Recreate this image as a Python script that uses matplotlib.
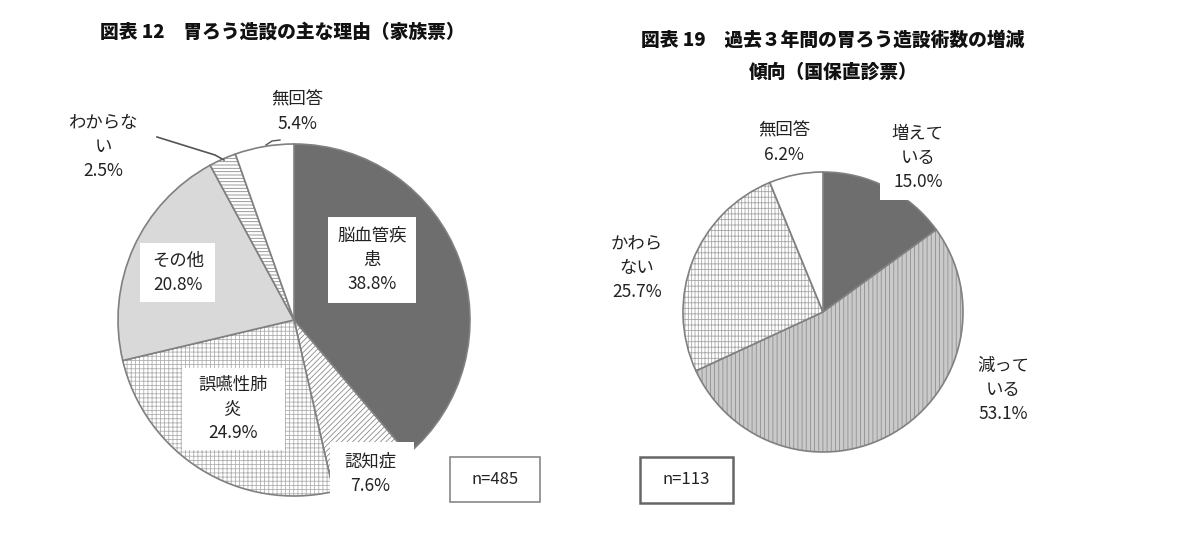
import matplotlib
matplotlib.use("Agg")
import matplotlib.pyplot as plt
from matplotlib.patches import Rectangle
from matplotlib.colors import to_rgba

plt.rcParams['font.family'] = ['Noto Sans CJK JP', 'DejaVu Sans']
plt.rcParams['hatch.linewidth'] = 0.6

# ---- data ----
left_title = "図表 12　胃ろう造設の主な理由（家族票）"
left_labels = ["脳血管疾患", "認知症", "誤嚥性肺炎", "その他", "わからない", "無回答"]
left_values = [38.8, 7.6, 24.9, 20.8, 2.5, 5.4]
left_n = "n=485"

right_title = "図表 19　過去３年間の胃ろう造設術数の増減\n傾向（国保直診票）"
right_labels = ["増えている", "減っている", "かわらない", "無回答"]
right_values = [15.0, 53.1, 25.7, 6.2]
right_n = "n=113"

W, H = 1200, 545
fig = plt.figure(figsize=(12, 5.45), dpi=100)
ax = fig.add_axes([0, 0, 1, 1])

def Y(v):
    return H - v

edge = '#808080'

def style(wedges, styles):
    for w, s in zip(wedges, styles):
        w.set_facecolor(s[0])
        if s[1]:
            w.set_hatch(s[1])
            w._hatch_color = to_rgba(s[2])

lstyles = [
    ('#6e6e6e', None, None),
    ('white', '//////', '#8a8a8a'),
    ('white', '++++', '#b0b0b0'),
    ('#d9d9d9', None, None),
    ('white', '-----', '#8a8a8a'),
    ('white', None, None),
]
wl, _ = ax.pie(left_values, center=(294, Y(320)), radius=176, startangle=90,
               counterclock=False, frame=True,
               wedgeprops=dict(edgecolor=edge, linewidth=1.2))
style(wl, lstyles)

rstyles = [
    ('#6e6e6e', None, None),
    ('#cacaca', '||||', '#909090'),
    ('white', '+++||', '#a8a8a8'),
    ('white', None, None),
]
wr, _ = ax.pie(right_values, center=(823, Y(312)), radius=140, startangle=90,
               counterclock=False, frame=True,
               wedgeprops=dict(edgecolor=edge, linewidth=1.2))
style(wr, rstyles)

ax.set_xlim(0, W)
ax.set_ylim(0, H)
ax.set_aspect('auto')
ax.axis('off')

fs = 12.5
def lab(x, y, s, ls=1.45):
    ax.text(x, Y(y), s, ha='center', va='center', fontsize=fs, color='#222222',
            linespacing=ls, zorder=5)

for (x0, y0, x1, y1) in [(328, 217, 416, 303), (140, 243, 215, 302),
                         (182, 368, 285, 450), (330, 442, 414, 505),
                         (880, 113, 955, 200)]:
    ax.add_patch(Rectangle((x0, Y(y1)), x1 - x0, y1 - y0, facecolor='white',
                           edgecolor='none', zorder=4))

lab(372, 260, "脳血管疾\n患\n38.8%")
lab(178, 273, "その他\n20.8%")
lab(233, 409, "誤嚥性肺\n炎\n24.9%")
lab(370, 474, "認知症\n7.6%")
lab(103, 147, "わからな\nい\n2.5%")
lab(297, 112, "無回答\n5.4%")

ax.plot([157, 215, 224], [Y(137), Y(155), Y(160)], color='#555555', lw=1.2, zorder=6)
ax.plot([266, 272, 280], [Y(145), Y(141), Y(140)], color='#555555', lw=1.0, zorder=6)

lab(784, 143, "無回答\n6.2%")
lab(918, 158, "増えて\nいる\n15.0%")
lab(637, 268, "かわら\nない\n25.7%")
lab(1003, 390, "減って\nいる\n53.1%")

ax.text(282, Y(32), left_title, ha='center', va='center', fontsize=13.5,
        fontweight='heavy', color='#111111')
ax.text(833, Y(56), right_title, ha='center', va='center', fontsize=13.5,
        fontweight='heavy', color='#111111', linespacing=1.9)

ax.add_patch(Rectangle((450, Y(502)), 90, 45, facecolor='white', edgecolor='#888888', lw=1.2, zorder=4))
ax.text(495, Y(479), left_n, ha='center', va='center', fontsize=12, color='#222222', zorder=5)
ax.add_patch(Rectangle((640, Y(503)), 93, 46, facecolor='white', edgecolor='#666666', lw=1.8, zorder=4))
ax.text(686, Y(480), right_n, ha='center', va='center', fontsize=12, color='#222222', zorder=5)

fig.savefig("out.png", dpi=100)
